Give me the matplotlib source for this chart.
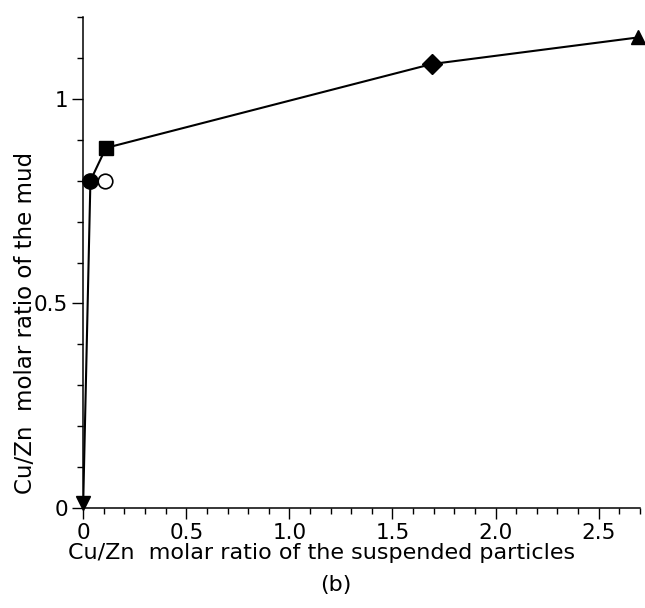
import numpy as np
from matplotlib import pyplot as plt
from matplotlib.ticker import MultipleLocator, FixedLocator

# connected series (suspended particles vs mud)
line_x = [0.0, 0.035, 0.11, 1.69, 2.69]
line_y = [0.012, 0.80, 0.88, 1.085, 1.15]
markers = ["v", "o", "s", "D", "^"]
sizes = [10, 11, 10.5, 10, 10.5]

# open circle, not joined to the line
open_x = [0.105]
open_y = [0.80]

x_ticks = [0, 0.5, 1.0, 1.5, 2.0, 2.5]
x_labels = ["0", "0.5", "1.0", "1.5", "2.0", "2.5"]
y_ticks = [0, 0.5, 1.0]
y_labels = ["0", "0.5", "1"]

plt.rcParams['font.family'] = ['DejaVu Sans']

fig = plt.figure(figsize=(6.45, 6.08), dpi=100)
ax = fig.add_axes([0.129, 0.1645, 0.863, 0.8075])

ax.plot(line_x, line_y, color="black", lw=1.5, zorder=2)
for x, y, m, s in zip(line_x, line_y, markers, sizes):
    ax.plot(x, y, marker=m, color="black", markersize=s, clip_on=False, zorder=3)
ax.plot(open_x, open_y, marker="o", mfc="white", mec="black", mew=1.2,
        markersize=10.5, ls="none", clip_on=False, zorder=3)

ax.set_xlim(0, 2.7)
ax.set_ylim(0, 1.2)
ax.xaxis.set_major_locator(FixedLocator(x_ticks))
ax.set_xticklabels(x_labels)
ax.yaxis.set_major_locator(FixedLocator(y_ticks))
ax.set_yticklabels(y_labels)
ax.xaxis.set_minor_locator(MultipleLocator(0.1))
ax.yaxis.set_minor_locator(MultipleLocator(0.1))
ax.tick_params(which="major", length=8, width=1, labelsize=15.5, direction="out", pad=3)
ax.tick_params(which="minor", length=4, width=1, direction="out")

for side in ["top", "right"]:
    ax.spines[side].set_visible(False)
for side in ["left", "bottom"]:
    ax.spines[side].set_linewidth(1.1)

ax.set_xlabel("Cu/Zn  molar ratio of the suspended particles", fontsize=16, va="center")
ax.xaxis.set_label_coords(0.429, -0.092)
ax.set_ylabel("Cu/Zn  molar ratio of the mud", fontsize=16.5, va="center")
ax.yaxis.set_label_coords(-0.104, 0.377)
fig.text(0.52, 0.038, "(b)", ha="center", va="center", fontsize=16)

fig.savefig("out.png", dpi=100)
